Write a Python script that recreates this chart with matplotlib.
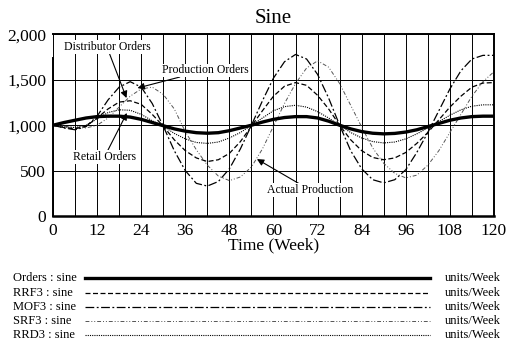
import matplotlib
matplotlib.use('Agg')
import matplotlib.pyplot as plt
from matplotlib.lines import Line2D

plt.rcParams['font.family'] = ['Liberation Serif', 'DejaVu Serif']

# time axis (weeks)
weeks = list(range(0, 121, 3))

# values, units/Week
orders = [1000, 1030, 1055, 1080, 1095, 1100, 1100, 1090, 1065, 1030, 995,
          960, 935, 918, 912, 918, 940, 970, 1000, 1035, 1065, 1085, 1095,
          1095, 1080, 1045, 1000, 960, 930, 912, 905, 910, 925, 950, 985,
          1020, 1055, 1080, 1095, 1100, 1100]
rrf3 = [1000, 975, 960, 990, 1080, 1180, 1255, 1270, 1230, 1120, 990,
        840, 720, 640, 600, 620, 690, 820, 990, 1160, 1320, 1430, 1470,
        1440, 1330, 1180, 1000, 840, 720, 645, 620, 640, 700, 800, 920,
        1060, 1200, 1320, 1420, 1465, 1470]
mof3 = [1000, 970, 950, 985, 1100, 1280, 1420, 1480, 1420, 1240, 990,
        720, 500, 360, 330, 380, 520, 740, 1000, 1270, 1520, 1700, 1780,
        1730, 1560, 1300, 1000, 720, 520, 400, 365, 400, 510, 700, 920,
        1160, 1400, 1600, 1730, 1770, 1770]
srf3 = [1000, 990, 975, 970, 1000, 1080, 1200, 1320, 1400, 1420, 1340,
        1180, 930, 730, 560, 440, 390, 430, 540, 740, 990, 1240, 1460,
        1630, 1710, 1640, 1460, 1220, 980, 750, 580, 470, 420, 450, 560,
        720, 920, 1120, 1320, 1480, 1590]
rrd3 = [1000, 980, 975, 1000, 1070, 1140, 1170, 1165, 1120, 1050, 990,
        910, 850, 810, 800, 815, 860, 920, 1000, 1080, 1160, 1205, 1220,
        1200, 1150, 1080, 1000, 920, 860, 820, 805, 815, 850, 905, 970,
        1040, 1110, 1170, 1210, 1225, 1225]

legend_names = ['Orders : sine', 'RRF3 : sine', 'MOF3 : sine', 'SRF3 : sine', 'RRD3 : sine']
unit = 'units/Week'

styles = [
    dict(color='black', lw=2.4, ls='-'),
    dict(color='black', lw=0.9, ls=(0, (4, 2))),
    dict(color='black', lw=0.9, ls=(0, (7, 2, 1.5, 2))),
    dict(color='#555555', lw=0.7, ls=(0, (4, 2, 1, 2, 1, 2))),
    dict(color='black', lw=0.8, ls=(0, (1, 1))),
]

fig = plt.figure(figsize=(5.11, 3.48), dpi=100)
ax = fig.add_axes([0.1037, 0.3793, 0.863, 0.5216])

series = [orders, rrf3, mof3, srf3, rrd3]
for vals, st, z in zip(series, styles, [5, 4, 4, 3, 4]):
    ax.plot(weeks, vals, zorder=z, **st)

ax.set_xlim(0, 120)
ax.set_ylim(0, 2000)
ax.set_xticks(range(0, 121, 12))
ax.set_xticks(range(6, 121, 12), minor=True)
ax.set_yticks([0, 500, 1000, 1500, 2000])
ax.set_yticklabels(['0', '500', '1,000', '1,500', '2,000'])
ax.tick_params(which='both', length=0, labelsize=12.5, pad=5)
ax.grid(True, which='both', axis='x', color='black', lw=0.7)
ax.grid(True, which='major', axis='y', color='black', lw=0.7)
ax.set_axisbelow(True)
ax.spines['bottom'].set_linewidth(1.8)
ax.spines['right'].set_linewidth(1.4)
ax.spines['top'].set_linewidth(1.4)
ax.spines['left'].set_linewidth(1.4)
ax.spines['left'].set_bounds(0, 1740)

ax.set_title('Sine', fontsize=15, pad=8)
ax.set_xlabel('Time (Week)', fontsize=12.5, labelpad=-1)

box = dict(facecolor='white', edgecolor='none', pad=0.5)
arrow = dict(arrowstyle='-|>', color='black', lw=0.8, mutation_scale=10, shrinkA=0, shrinkB=0)
ax.annotate('Distributor Orders', xy=(20, 1300), xytext=(14.7, 1860), fontsize=8.5,
            ha='center', va='center', bbox=box, arrowprops=arrow, zorder=6)
ax.annotate('Production Orders', xy=(23, 1410), xytext=(41.5, 1605), fontsize=8.5,
            ha='center', va='center', bbox=box, arrowprops=arrow, zorder=6)
ax.annotate('Retail Orders', xy=(20.1, 1135), xytext=(14, 650), fontsize=8.5,
            ha='center', va='center', bbox=box, arrowprops=arrow, zorder=6)
ax.annotate('Actual Production', xy=(55.5, 627), xytext=(70, 285), fontsize=8.5,
            ha='center', va='center', bbox=box, arrowprops=arrow, zorder=6)

# legend strip under the chart
rows = [278, 293, 307, 321, 335]
for name, st, r in zip(legend_names, styles, rows):
    yf = 1 - r / 348
    fig.text(13 / 511, yf, name, fontsize=9, va='center', ha='left')
    fig.add_artist(Line2D([85 / 511, 430 / 511], [yf, yf], transform=fig.transFigure, **st))
    fig.text(445 / 511, yf, unit, fontsize=9, va='center', ha='left')

fig.savefig('out.png', dpi=100)
